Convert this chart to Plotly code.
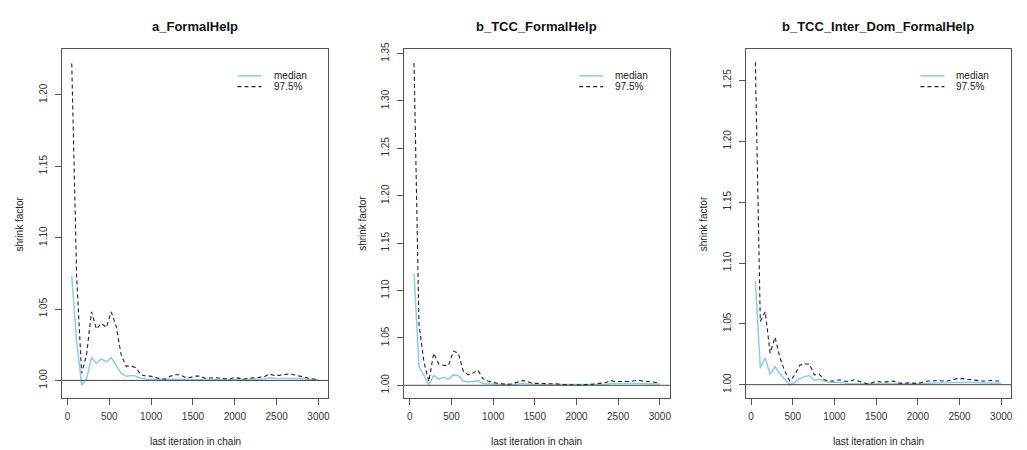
import plotly.graph_objects as go

# ---------------- data ----------------
iterations = [51, 110, 169, 228, 287, 346, 405, 464, 523, 582, 641, 700, 759, 818, 877,
              936, 995, 1054, 1113, 1172, 1231, 1290, 1349, 1408, 1467, 1526, 1585, 1644,
              1703, 1762, 1821, 1880, 1939, 1998, 2057, 2116, 2175, 2234, 2293, 2352, 2411,
              2470, 2529, 2588, 2647, 2706, 2765, 2824, 2883, 2942, 3000]

titles = ["a_FormalHelp", "b_TCC_FormalHelp", "b_TCC_Inter_Dom_FormalHelp"]

a_median = [1.073, 1.027, 0.9968, 1.001, 1.016, 1.012, 1.015, 1.013, 1.016, 1.010, 1.005,
            1.003, 1.0035, 1.003, 1.0015, 1.001, 1.001, 1.0008, 1.0005, 1.0006, 1.0008,
            1.001, 1.001, 1.0008, 1.0007, 1.0008, 1.0009, 1.0007, 1.0006, 1.0006, 1.0005,
            1.0004, 1.0004, 1.0006, 1.0005, 1.0005, 1.0006, 1.0007, 1.0008, 1.001, 1.0018,
            1.0015, 1.0015, 1.0016, 1.0018, 1.0016, 1.0013, 1.001, 1.0008, 1.0006, 1.0004]
a_975 = [1.222, 1.072, 1.005, 1.018, 1.048, 1.036, 1.040, 1.037, 1.048, 1.038, 1.018,
         1.010, 1.010, 1.009, 1.004, 1.003, 1.003, 1.002, 1.001, 1.001, 1.003, 1.004,
         1.004, 1.002, 1.002, 1.003, 1.003, 1.0015, 1.002, 1.002, 1.0015, 1.001, 1.001,
         1.002, 1.0015, 1.001, 1.0015, 1.002, 1.002, 1.0025, 1.0045, 1.0035, 1.0035,
         1.004, 1.0045, 1.004, 1.003, 1.002, 1.0015, 1.001, 1.0005]

b_median = [1.118, 1.020, 1.0105, 1.0005, 1.0105, 1.0065, 1.0085, 1.0065, 1.011, 1.0105,
            1.0045, 1.0035, 1.004, 1.005, 1.002, 1.0015, 1.001, 1.001, 1.0008, 1.0006,
            1.0008, 1.0012, 1.0018, 1.0015, 1.001, 1.0008, 1.0008, 1.0008, 1.0008, 1.0007,
            1.0005, 1.0004, 1.0004, 1.0004, 1.0004, 1.0004, 1.0005, 1.0007, 1.0009, 1.0012,
            1.002, 1.0018, 1.0018, 1.0018, 1.0018, 1.002, 1.002, 1.0018, 1.0018, 1.0015, 1.0014]
b_975 = [1.340, 1.065, 1.025, 1.004, 1.034, 1.0225, 1.021, 1.021, 1.036, 1.034, 1.015,
         1.011, 1.013, 1.016, 1.007, 1.0045, 1.0035, 1.002, 1.0015, 1.001, 1.0015, 1.003,
         1.005, 1.004, 1.002, 1.002, 1.002, 1.002, 1.002, 1.0015, 1.001, 1.0005, 1.0005,
         1.0005, 1.0005, 1.0005, 1.001, 1.0015, 1.002, 1.003, 1.005, 1.004, 1.004, 1.004,
         1.004, 1.005, 1.005, 1.004, 1.004, 1.003, 1.003]

c_median = [1.085, 1.0138, 1.022, 1.0084, 1.0148, 1.009, 1.0044, 0.9998, 1.002, 1.005,
            1.0065, 1.0075, 1.0035, 1.0045, 1.003, 1.002, 1.002, 1.002, 1.0015, 1.0008,
            1.0008, 1.0007, 1.0006, 1.0004, 1.0006, 1.0008, 1.0008, 1.0009, 1.001, 1.0007,
            1.0005, 1.0005, 1.0004, 1.0005, 1.0008, 1.0012, 1.0013, 1.0014, 1.0013, 1.0014,
            1.0018, 1.0022, 1.0022, 1.002, 1.0018, 1.0015, 1.0014, 1.0013, 1.0014, 1.0013, 1.0012]
c_975 = [1.265, 1.052, 1.060, 1.026, 1.039, 1.022, 1.011, 1.003, 1.008, 1.016, 1.017,
         1.017, 1.008, 1.0085, 1.004, 1.003, 1.003, 1.004, 1.003, 1.0025, 1.004, 1.003,
         1.0015, 1.0005, 1.002, 1.0025, 1.002, 1.0025, 1.003, 1.0015, 1.001, 1.0015,
         1.001, 1.001, 1.002, 1.003, 1.003, 1.0035, 1.003, 1.003, 1.004, 1.005, 1.005,
         1.0045, 1.004, 1.003, 1.003, 1.003, 1.0035, 1.003, 1.003]

y_ranges = [[0.9878, 1.2319], [0.9868, 1.3545], [0.9892, 1.2756]]
y_tickvals = [[1.00, 1.05, 1.10, 1.15, 1.20],
              [1.00, 1.05, 1.10, 1.15, 1.20, 1.25, 1.30, 1.35],
              [1.00, 1.05, 1.10, 1.15, 1.20, 1.25]]
x_tickvals = [0, 500, 1000, 1500, 2000, 2500, 3000]
legend_labels = ["median", "97.5%"]

medians = [a_median, b_median, c_median]
uppers = [a_975, b_975, c_975]

# ---------------- layout ----------------
W, H = 1027, 450
x_domains_px = [(62, 329), (405, 671), (747, 1013)]
y_dom = [1 - 397 / H, 1 - 43 / H]
ytitle_x_px = [20, 363, 705]

FONT = "Liberation Sans, Arial, Helvetica, sans-serif"
MED_COL = "#87CEEB"
UP_COL = "#222222"
AX_COL = "#555555"

fig = go.Figure()
layout = dict(width=W, height=H, margin=dict(l=0, r=0, t=0, b=0), autosize=False,
              paper_bgcolor="white", plot_bgcolor="white", showlegend=False,
              font=dict(family=FONT, size=10, color="#222"))
annotations = []
shapes = []

for i in range(3):
    sfx = "" if i == 0 else str(i + 1)
    xa, ya = "x" + sfx, "y" + sfx
    fig.add_trace(go.Scatter(x=iterations, y=medians[i], mode="lines", name=legend_labels[0],
                             line=dict(color=MED_COL, width=1.5), xaxis=xa, yaxis=ya))
    fig.add_trace(go.Scatter(x=iterations, y=uppers[i], mode="lines", name=legend_labels[1],
                             line=dict(color=UP_COL, width=1.1, dash="4px,3px"),
                             xaxis=xa, yaxis=ya))
    x0, x1 = x_domains_px[i]
    common = dict(showgrid=False, zeroline=False, showline=True, linecolor=AX_COL,
                  linewidth=1, mirror=True, ticks="outside", ticklen=6, tickwidth=1,
                  tickcolor=AX_COL, tickfont=dict(family=FONT, size=10, color="#333"))
    layout["xaxis" + sfx] = dict(domain=[x0 / W, x1 / W], anchor=ya, range=[-67, 3118],
                                 tickvals=x_tickvals, ticklabelstandoff=3, **common)
    layout["yaxis" + sfx] = dict(domain=y_dom, anchor=xa, range=y_ranges[i],
                                 tickvals=y_tickvals[i], tickformat=".2f", tickangle=-90,
                                 ticklabelstandoff=4, **common)
    # reference line at 1
    shapes.append(dict(type="line", xref=xa + " domain", yref=ya, x0=0, x1=1, y0=1, y1=1,
                       line=dict(color="#444", width=1)))
    # title
    annotations.append(dict(text="<b>" + titles[i] + "</b>", xref="paper", yref="paper",
                            x=(x0 + x1) / 2 / W, y=1 - 19.5 / H, showarrow=False,
                            xanchor="center", yanchor="middle",
                            font=dict(family=FONT, size=13, color="#111")))
    annotations.append(dict(text="last iteration in chain", xref="paper", yref="paper",
                            x=(x0 + x1) / 2 / W, y=1 - 441.5 / H, showarrow=False,
                            xanchor="center", yanchor="middle",
                            font=dict(family=FONT, size=10, color="#222")))
    annotations.append(dict(text="shrink factor", xref="paper", yref="paper",
                            x=ytitle_x_px[i] / W, y=1 - 220 / H, showarrow=False,
                            textangle=-90, xanchor="center", yanchor="middle",
                            font=dict(family=FONT, size=10, color="#222")))
    # legend (inside top-right)
    for j, (lab, col, dash, wd) in enumerate([(legend_labels[0], MED_COL, "solid", 1.5),
                                               (legend_labels[1], UP_COL, "4px,3px", 1.1)]):
        ly = [0.924, 0.893][j]
        shapes.append(dict(type="line", xref=xa + " domain", yref=ya + " domain",
                           x0=0.659, x1=0.749, y0=ly, y1=ly,
                           line=dict(color=col, width=wd, dash=dash)))
        annotations.append(dict(text=lab, xref=xa + " domain", yref=ya + " domain",
                                x=0.787, y=ly, showarrow=False, xanchor="left",
                                yanchor="middle",
                                font=dict(family=FONT, size=10, color="#222")))

layout["annotations"] = annotations
layout["shapes"] = shapes
fig.update_layout(**layout)
fig.write_html("out.html")
